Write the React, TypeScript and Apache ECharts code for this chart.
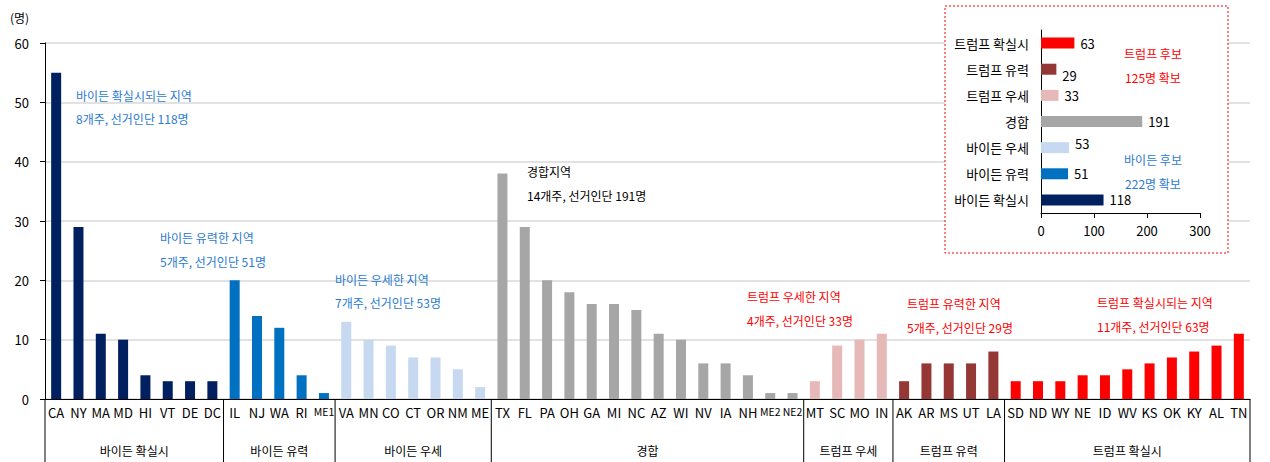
import React, { useEffect, useRef } from "react";
import * as echarts from "echarts";

const categories = [
  "CA", "NY", "MA", "MD", "HI", "VT", "DE", "DC",
  "IL", "NJ", "WA", "RI", "ME1",
  "VA", "MN", "CO", "CT", "OR", "NM", "ME",
  "TX", "FL", "PA", "OH", "GA", "MI", "NC", "AZ", "WI", "NV", "IA", "NH", "ME2", "NE2",
  "MT", "SC", "MO", "IN",
  "AK", "AR", "MS", "UT", "LA",
  "SD", "ND", "WY", "NE", "ID", "WV", "KS", "OK", "KY", "AL", "TN",
];
const values = [
  55, 29, 11, 10, 4, 3, 3, 3,
  20, 14, 12, 4, 1,
  13, 10, 9, 7, 7, 5, 2,
  38, 29, 20, 18, 16, 16, 15, 11, 10, 6, 6, 4, 1, 1,
  3, 9, 10, 11,
  3, 6, 6, 6, 8,
  3, 3, 3, 4, 4, 5, 6, 7, 8, 9, 11,
];
const groupNames = ["바이든 확실시", "바이든 유력", "바이든 우세", "경합", "트럼프 우세", "트럼프 유력", "트럼프 확실시"];
const groupSizes = [8, 5, 7, 14, 4, 5, 11];
const groupColors = ["#002060", "#0070C0", "#C6D9F1", "#A6A6A6", "#E6B9B8", "#953735", "#FF0000"];
const groupTotals = [118, 51, 53, 191, 33, 29, 63];
const yTicks = [0, 10, 20, 30, 40, 50, 60];
const insetTicks = [0, 100, 200, 300];

const FONT = "'Noto Sans CJK KR', 'Noto Sans', sans-serif";
const BLUE = "#2b7bd0";
const RED = "#ff0000";

export default function App() {
  const ref = useRef<HTMLDivElement>(null);
  useEffect(() => {
    if (!ref.current) return;
    const chart = echarts.init(ref.current, null, { renderer: "svg" });

    const groupStarts: number[] = [];
    let acc = 0;
    groupSizes.forEach((s) => { groupStarts.push(acc); acc += s; });
    const catGroup: number[] = [];
    groupSizes.forEach((s, gi) => { for (let i = 0; i < s; i++) catGroup.push(gi); });

    const barData = values.map((v, i) => ({ value: v, itemStyle: { color: groupColors[catGroup[i]] } }));
    const groupData = groupSizes.map((s, gi) => [groupStarts[gi], 0, groupStarts[gi] + s - 1]);
    const insetLabelOffsets = [[0, 0], [0, 0], [0, -4], [0, 0], [0, 0], [0, 6], [0, 0]];
    const insetData = groupTotals.map((v, i) => ({
      value: v,
      itemStyle: { color: groupColors[i] },
      label: { offset: insetLabelOffsets[i] },
    }));

    const annText = (x: number, y: number, text: string, color: string) => ({
      type: "text", x, y, z: 20,
      style: { text, fill: color, font: `12px ${FONT}`, align: "left", verticalAlign: "middle" },
    });

    chart.setOption({
      animation: false,
      textStyle: { fontFamily: FONT },
      grid: [
        { left: 45, right: 20, top: 43, bottom: 63 },
        { left: 1041, top: 30, width: 159, height: 183 },
      ],
      xAxis: [
        {
          type: "category", gridIndex: 0, data: categories,
          axisLine: { lineStyle: { color: "#000" } },
          axisTick: { interval: 0, length: 25, lineStyle: { color: "#000" } },
          axisLabel: {
            interval: 0, hideOverlap: false, color: "#000", fontSize: 13, margin: 7, fontFamily: FONT,
            formatter: (v: string) => (v.length > 2 ? `{s|${v}}` : v),
            rich: { s: { fontSize: 10.5, fontFamily: FONT, color: "#000" } },
          },
        },
        {
          type: "value", gridIndex: 1, min: insetTicks[0], max: insetTicks[insetTicks.length - 1], interval: 100,
          z: 10,
          splitLine: { show: false },
          axisLine: { show: true, lineStyle: { color: "#000" } },
          axisTick: { show: true, length: 5, lineStyle: { color: "#000" } },
          axisLabel: { color: "#000", fontSize: 13, margin: 11, fontFamily: FONT },
        },
      ],
      yAxis: [
        {
          type: "value", gridIndex: 0, min: yTicks[0], max: yTicks[yTicks.length - 1], interval: 10,
          axisLine: { show: true, lineStyle: { color: "#000" } },
          axisTick: { show: true, length: 5, lineStyle: { color: "#000" } },
          axisLabel: { color: "#000", fontSize: 13, margin: 16, fontFamily: FONT },
          splitLine: { lineStyle: { color: "#d9d9d9", width: 1.5 } },
        },
        {
          type: "category", gridIndex: 1, data: groupNames,
          z: 10,
          axisLine: { lineStyle: { color: "#000" } },
          axisTick: { length: 5, lineStyle: { color: "#000" } },
          axisLabel: { color: "#000", fontSize: 13, margin: 12, fontFamily: FONT },
        },
      ],
      series: [
        {
          type: "bar", xAxisIndex: 0, yAxisIndex: 0, data: barData, barWidth: 10,
        },
        {
          type: "custom", xAxisIndex: 0, yAxisIndex: 0, clip: false, silent: true,
          encode: { x: 0, y: 1 },
          data: groupData,
          renderItem: (params: any, api: any) => {
            const gi = params.dataIndex;
            const start = api.value(0);
            const end = api.value(2);
            const w = api.size([1, 0])[0];
            const a = api.coord([start, 0]);
            const b = api.coord([end, 0]);
            const left = a[0] - w / 2;
            const right = b[0] + w / 2;
            const y = a[1];
            const children: any[] = [
              { type: "line", shape: { x1: left, y1: y, x2: left, y2: y + 63 }, style: { stroke: "#000", lineWidth: 1 } },
              {
                type: "text", x: (left + right) / 2, y: y + 51,
                style: { text: groupNames[gi], fill: "#000", font: `12px ${FONT}`, align: "center", verticalAlign: "middle" },
              },
            ];
            if (gi === groupSizes.length - 1) {
              children.push({ type: "line", shape: { x1: right, y1: y, x2: right, y2: y + 63 }, style: { stroke: "#000", lineWidth: 1 } });
            }
            return { type: "group", children };
          },
        },
        {
          type: "bar", xAxisIndex: 1, yAxisIndex: 1, data: insetData, barWidth: 11, z: 10,
          label: { show: true, position: "right", distance: 6, color: "#000", fontSize: 13, fontFamily: FONT },
        },
      ],
      graphic: [
        {
          type: "rect", z: 1, shape: { x: 945, y: 6, width: 283, height: 247 },
          style: { fill: "#fff", stroke: "#ff0000", lineWidth: 1, lineDash: [2, 2] },
        },
        {
          type: "text", x: 10, y: 17, z: 20,
          style: { text: "(명)", fill: "#000", font: `12px ${FONT}`, align: "left", verticalAlign: "middle" },
        },
        annText(76, 95, "바이든 확실시되는 지역", BLUE),
        annText(76, 118, "8개주, 선거인단 118명", BLUE),
        annText(160, 237, "바이든 유력한 지역", BLUE),
        annText(160, 261, "5개주, 선거인단 51명", BLUE),
        annText(335, 279, "바이든 우세한 지역", BLUE),
        annText(335, 302, "7개주, 선거인단 53명", BLUE),
        annText(527, 171, "경합지역", "#000"),
        annText(527, 195, "14개주, 선거인단 191명", "#000"),
        annText(747, 296, "트럼프 우세한 지역", RED),
        annText(747, 320, "4개주, 선거인단 33명", RED),
        annText(907, 303, "트럼프 유력한 지역", RED),
        annText(907, 327, "5개주, 선거인단 29명", RED),
        annText(1097, 302, "트럼프 확실시되는 지역", RED),
        annText(1097, 326, "11개주, 선거인단 63명", RED),
        {
          type: "text", x: 1153, y: 53, z: 20,
          style: { text: "트럼프 후보", fill: RED, font: `12px ${FONT}`, align: "center", verticalAlign: "middle" },
        },
        {
          type: "text", x: 1153, y: 77, z: 20,
          style: { text: "125명 확보", fill: RED, font: `12px ${FONT}`, align: "center", verticalAlign: "middle" },
        },
        {
          type: "text", x: 1153, y: 159, z: 20,
          style: { text: "바이든 후보", fill: BLUE, font: `12px ${FONT}`, align: "center", verticalAlign: "middle" },
        },
        {
          type: "text", x: 1153, y: 183, z: 20,
          style: { text: "222명 확보", fill: BLUE, font: `12px ${FONT}`, align: "center", verticalAlign: "middle" },
        },
      ],
    });
    return () => chart.dispose();
  }, []);
  return <div ref={ref} style={{ width: 1270, height: 462, position: "absolute", left: 0, top: 0 }} />;
}
